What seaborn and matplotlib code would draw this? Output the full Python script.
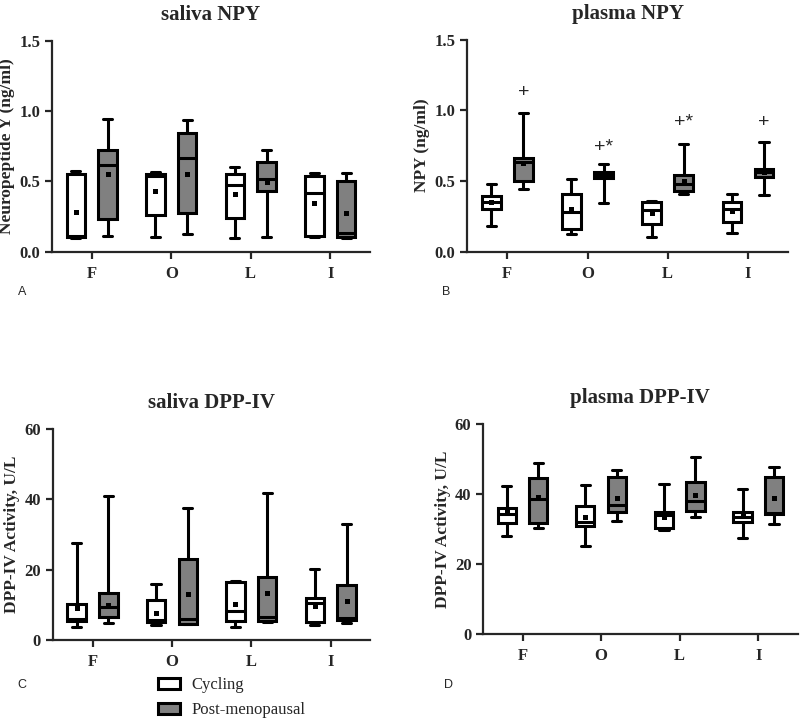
import numpy as np
import pandas as pd
import seaborn as sns
import matplotlib.pyplot as plt
from matplotlib.patches import Patch

# Settings
PHASES = ["F", "O", "L", "I"]
GROUPS = ["Cycling", "Post-menopausal"]
BOX_COLORS = {"Cycling": "white", "Post-menopausal": "#808080"}

# five-number summaries per phase: [min, q1, median, q3, max]
saliva_npy_cyc = [[0.10, 0.107, 0.11, 0.55, 0.573],
                  [0.102, 0.258, 0.54, 0.552, 0.569],
                  [0.10, 0.239, 0.474, 0.552, 0.602],
                  [0.102, 0.114, 0.415, 0.54, 0.562]]
saliva_npy_post = [[0.114, 0.235, 0.618, 0.723, 0.948],
                   [0.123, 0.277, 0.668, 0.846, 0.934],
                   [0.107, 0.429, 0.517, 0.64, 0.727],
                   [0.095, 0.107, 0.13, 0.505, 0.562]]
saliva_npy_mean_cyc = [0.284, 0.429, 0.41, 0.346]
saliva_npy_mean_post = [0.552, 0.552, 0.498, 0.277]

plasma_npy_cyc = [[0.181, 0.301, 0.351, 0.393, 0.48],
                  [0.125, 0.162, 0.283, 0.407, 0.516],
                  [0.106, 0.195, 0.294, 0.348, 0.36],
                  [0.13, 0.207, 0.30, 0.348, 0.407]]
plasma_npy_post = [[0.445, 0.50, 0.636, 0.662, 0.98],
                   [0.341, 0.518, 0.54, 0.56, 0.622],
                   [0.407, 0.426, 0.478, 0.541, 0.763],
                   [0.403, 0.525, 0.565, 0.586, 0.775]]
plasma_npy_mean_cyc = [0.348, 0.301, 0.275, 0.287]
plasma_npy_mean_post = [0.63, 0.54, 0.50, 0.565]
plasma_npy_marks = ["+", "+*", "+*", "+"]
plasma_npy_mark_y = [1.125, 0.74, 0.914, 0.914]

saliva_dpp_cyc = [[3.6, 5.4, 6.0, 10.2, 27.7],
                  [4.2, 5.0, 5.7, 11.4, 15.9],
                  [3.6, 5.4, 8.2, 16.4, 16.7],
                  [4.3, 5.0, 10.6, 11.9, 20.1]]
saliva_dpp_post = [[4.9, 6.4, 9.5, 13.3, 41.0],
                   [4.5, 4.65, 6.0, 23.1, 37.5],
                   [5.0, 5.4, 6.6, 18.0, 41.8],
                   [4.7, 5.6, 6.2, 15.5, 33.0]]
saliva_dpp_mean_cyc = [9.0, 7.8, 10.2, 9.8]
saliva_dpp_mean_post = [10.0, 13.0, 13.3, 11.1]

plasma_dpp_cyc = [[28.1, 31.7, 34.3, 36.0, 42.4],
                  [25.3, 30.8, 32.0, 36.5, 42.7],
                  [29.8, 30.3, 34.1, 35.0, 43.0],
                  [27.4, 32.0, 33.6, 34.9, 41.5]]
plasma_dpp_post = [[30.4, 31.7, 38.6, 44.6, 48.8],
                   [32.4, 35.0, 37.0, 44.8, 47.0],
                   [33.6, 35.2, 38.1, 43.6, 50.5],
                   [31.5, 34.3, 34.5, 44.8, 47.8]]
plasma_dpp_mean_cyc = [34.8, 33.6, 33.6, 33.9]
plasma_dpp_mean_post = [39.1, 39.0, 39.8, 38.9]

PANELS = [
    ("A", "saliva NPY", "Neuropeptide Y (ng/ml)", saliva_npy_cyc, saliva_npy_post,
     saliva_npy_mean_cyc, saliva_npy_mean_post, [0, 0.5, 1.0, 1.5]),
    ("B", "plasma NPY", "NPY (ng/ml)", plasma_npy_cyc, plasma_npy_post,
     plasma_npy_mean_cyc, plasma_npy_mean_post, [0, 0.5, 1.0, 1.5]),
    ("C", "saliva DPP-IV", "DPP-IV Activity, U/L", saliva_dpp_cyc, saliva_dpp_post,
     saliva_dpp_mean_cyc, saliva_dpp_mean_post, [0, 20, 40, 60]),
    ("D", "plasma DPP-IV", "DPP-IV Activity, U/L", plasma_dpp_cyc, plasma_dpp_post,
     plasma_dpp_mean_cyc, plasma_dpp_mean_post, [0, 20, 40, 60]),
]

# axes rectangles in figure fractions (left, bottom, width, height)
AX_RECTS = {
    "A": [0.065, 0.650, 0.3975, 0.293],
    "B": [0.584, 0.650, 0.401, 0.295],
    "C": [0.066, 0.110, 0.397, 0.293],
    "D": [0.604, 0.118, 0.393, 0.292],
}
LETTER_POS = {"A": (0.022, 0.594), "B": (0.553, 0.594),
              "C": (0.022, 0.047), "D": (0.555, 0.047)}

SERIF = ["Liberation Serif", "DejaVu Serif"]
SANS = ["Liberation Sans", "DejaVu Sans"]


def build_frames(cyc, post, mean_cyc, mean_post):
    box_rows, mean_rows = [], []
    for group, stats, means in [("Cycling", cyc, mean_cyc), ("Post-menopausal", post, mean_post)]:
        for phase, five, m in zip(PHASES, stats, means):
            for v in five:
                box_rows.append({"phase": phase, "group": group, "value": v})
            mean_rows.append({"phase": phase, "group": group, "value": m})
    return pd.DataFrame(box_rows), pd.DataFrame(mean_rows)


def main():
    sns.set_style("ticks")
    plt.rcParams["font.family"] = SERIF
    plt.rcParams["axes.linewidth"] = 1.6
    plt.rcParams["xtick.major.width"] = 1.6
    plt.rcParams["ytick.major.width"] = 1.6
    plt.rcParams["xtick.major.size"] = 5
    plt.rcParams["ytick.major.size"] = 5
    plt.rcParams["xtick.major.pad"] = 5

    fig = plt.figure(figsize=(8, 7.19), dpi=100)

    for letter, title, ylabel, cyc, post, mcyc, mpost, yticks in PANELS:
        ax = fig.add_axes(AX_RECTS[letter])
        box_df, mean_df = build_frames(cyc, post, mcyc, mpost)
        sns.boxplot(data=box_df, x="phase", y="value", hue="group",
                    order=PHASES, hue_order=GROUPS, whis=(0, 100),
                    width=0.8, gap=0.42, palette=BOX_COLORS, saturation=1,
                    linecolor="black", linewidth=2.2, fliersize=0,
                    legend=False, ax=ax)
        sns.stripplot(data=mean_df, x="phase", y="value", hue="group",
                      order=PHASES, hue_order=GROUPS, dodge=True, jitter=False,
                      palette={"Cycling": "black", "Post-menopausal": "black"},
                      marker="s", size=3.6, linewidth=0, legend=False, ax=ax, zorder=5)
        ax.set_ylim(yticks[0], yticks[-1])
        ax.set_yticks(yticks)
        ax.set_xlim(-0.5, 3.5)
        sns.despine(ax=ax)
        ax.set_xlabel("")
        ax.set_ylabel(ylabel, fontsize=12.5, fontweight="bold", labelpad=3)
        ax.set_title(title, fontsize=15, fontweight="bold", pad=15)
        for lab in ax.get_xticklabels() + ax.get_yticklabels():
            lab.set_fontweight("bold")
            lab.set_fontsize(12)
        if letter == "B":
            for i, (txt, y) in enumerate(zip(plasma_npy_marks, plasma_npy_mark_y)):
                ax.text(i + 0.2, y, txt, ha="center", va="center",
                        fontsize=14, family=SANS)
        fig.text(*LETTER_POS[letter], letter, fontsize=9, family=SANS,
                 ha="left", va="center")

    handles = [Patch(facecolor=BOX_COLORS[g], edgecolor="black", linewidth=2.2, label=g)
               for g in GROUPS]
    fig.legend(handles=handles, loc="upper left", bbox_to_anchor=(0.185, 0.072),
               frameon=False, prop={"family": SERIF, "size": 12},
               handlelength=1.3, handleheight=0.6, handletextpad=0.7,
               labelspacing=0.55, borderaxespad=0.2)

    fig.savefig("out.png", dpi=100)
    plt.close(fig)


if __name__ == "__main__":
    main()
